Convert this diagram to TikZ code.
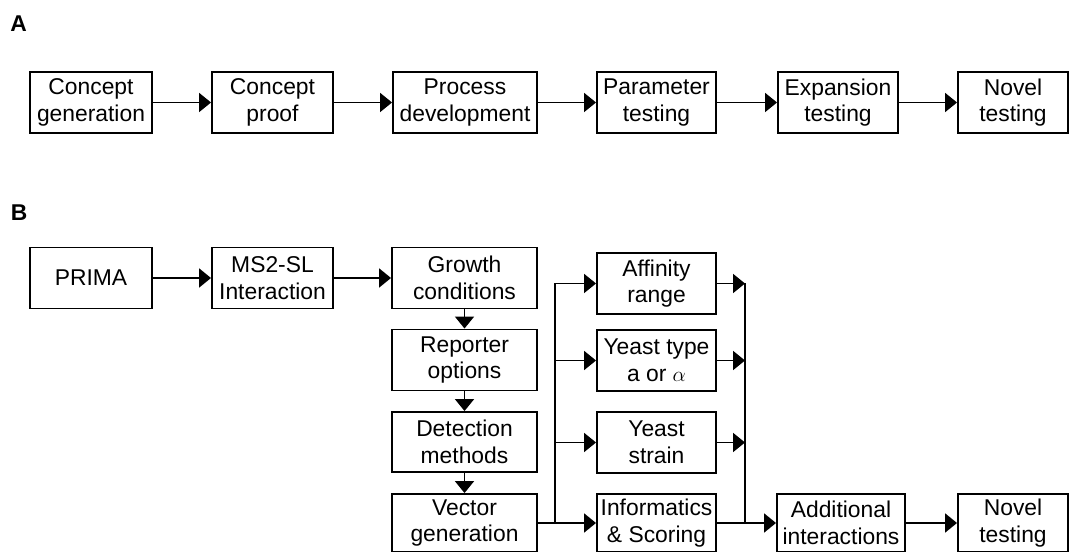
\documentclass[tikz,border=0pt]{standalone}
\usepackage{fontspec}
\setmainfont{Liberation Sans}
\usepackage{tikz}
\usetikzlibrary{arrows.meta,calc}
\tikzstyle{arr}  =[-{Triangle[length=0.24cm, width=0.38cm]}, line width=1.1pt]
\tikzstyle{stage}=[draw, line width=1.1pt, align=center, inner sep=2pt, minimum height=1.22cm]
\tikzstyle{panel}=[font=\fontsize{13}{15}\selectfont\bfseries]

\begin{document}
\begin{tikzpicture}[every node/.style={font=\fontsize{13}{15.2}\selectfont}]

  \useasboundingbox (0, 0) rectangle (21.4, -11.04);

  % ── panel A ───────────────────────────────────────────────────────────────
  \node[panel] (labA) at (0.37, -0.48) {A};

  \node[stage, minimum width=2.44cm] (cgen) at (1.82, -2.05)  {Concept\\generation};
  \node[stage, minimum width=2.42cm] (cprf) at (5.45, -2.05)  {Concept\\proof};
  \node[stage, minimum width=2.88cm] (pdev) at (9.30, -2.05)  {Process\\development};
  \node[stage, minimum width=2.38cm] (ptst) at (13.13, -2.05) {Parameter\\testing};
  \node[stage, minimum width=2.40cm] (etst) at (16.76, -2.05) {Expansion\\testing};
  \node[stage, minimum width=2.20cm] (ntstA) at (20.26, -2.05) {Novel\\testing};

  \draw[arr] (cgen) -- (cprf);
  \draw[arr] (cprf) -- (pdev);
  \draw[arr] (pdev) -- (ptst);
  \draw[arr] (ptst) -- (etst);
  \draw[arr] (etst) -- (ntstA);

  % ── panel B ───────────────────────────────────────────────────────────────
  \node[panel] (labB) at (0.38, -4.26) {B};

  \node[stage, minimum width=2.44cm] (prima) at (1.82, -5.56) {PRIMA};
  \node[stage, minimum width=2.42cm] (ms2)   at (5.45, -5.56) {MS2-SL\\Interaction};
  \node[stage, minimum width=2.90cm] (grow)  at (9.29, -5.56) {Growth\\conditions};
  \node[stage, minimum width=2.90cm] (rep)   at (9.29, -7.20) {Reporter\\options};
  \node[stage, minimum width=2.90cm, minimum height=1.20cm] (det) at (9.29, -8.84) {Detection\\methods};
  \node[stage, minimum width=2.90cm, minimum height=1.16cm] (vec) at (9.29, -10.46) {Vector\\generation};

  \node[stage, minimum width=2.38cm] (aff)   at (13.13, -5.67) {Affinity\\range};
  \node[stage, minimum width=2.38cm] (ytype) at (13.13, -7.21) {Yeast type\\a or $\alpha$};
  \node[stage, minimum width=2.38cm] (ystr)  at (13.13, -8.85) {Yeast\\strain};
  \node[stage, minimum width=2.38cm, minimum height=1.16cm] (info) at (13.13, -10.46) {Informatics\\\& Scoring};

  \node[stage, minimum width=2.56cm, minimum height=1.16cm] (addi) at (16.82, -10.46) {Additional\\interactions};
  \node[stage, minimum width=2.20cm, minimum height=1.16cm] (ntstB) at (20.26, -10.46) {Novel\\testing};

  \coordinate (splitT) at (11.10, -5.67);
  \coordinate (mergeT) at (14.90, -5.67);

  % ── arrows ────────────────────────────────────────────────────────────────
  \draw[arr] (prima) -- (ms2);
  \draw[arr] (ms2)   -- (grow);
  \draw[arr] (grow)  -- (rep);
  \draw[arr] (rep)   -- (det);
  \draw[arr] (det)   -- (vec);

  \draw[line width=1.1pt] (splitT) -- (splitT |- vec.east);
  \draw[arr] (vec)  -- (info);
  \draw[arr] (splitT) -- (aff);
  \draw[arr] (splitT |- ytype) -- (ytype);
  \draw[arr] (splitT |- ystr)  -- (ystr);

  \draw[line width=1.1pt] (mergeT) -- (mergeT |- info.east);
  \draw[arr] (aff)   -- (mergeT);
  \draw[arr] (ytype) -- (mergeT |- ytype);
  \draw[arr] (ystr)  -- (mergeT |- ystr);
  \draw[arr] (info)  -- (addi);
  \draw[arr] (addi)  -- (ntstB);

\end{tikzpicture}
\end{document}
